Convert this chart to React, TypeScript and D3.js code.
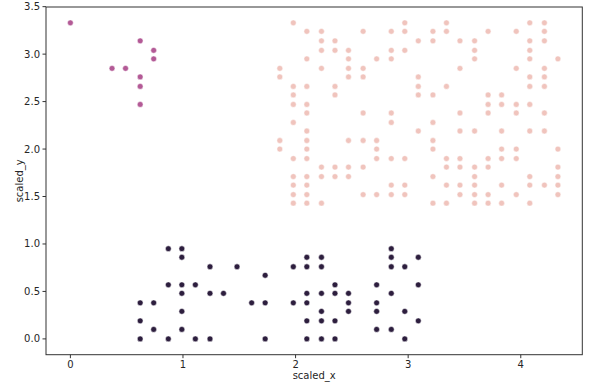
import React from "react";
import * as d3 from "d3";

// rows: [y, xs[]]
const darkRows: [number, number[]][] = [
  [0.95, [0.87, 0.99, 2.85]],
  [0.86, [0.99, 2.10, 2.23, 2.85, 3.09]],
  [0.76, [1.24, 1.48, 1.98, 2.10, 2.23, 2.85, 2.97]],
  [0.67, [1.73]],
  [0.57, [0.87, 0.99, 1.11, 2.35, 2.72, 3.09]],
  [0.48, [0.99, 1.24, 1.36, 2.10, 2.23, 2.35, 2.47, 2.85]],
  [0.38, [0.62, 0.74, 1.61, 1.73, 1.98, 2.10, 2.47, 2.72]],
  [0.29, [0.99, 2.23, 2.47, 2.72, 2.97]],
  [0.19, [0.62, 2.10, 2.23, 2.35, 3.09]],
  [0.10, [0.74, 0.99, 2.72, 2.85]],
  [0.00, [0.62, 0.87, 1.11, 1.24, 1.73, 2.10, 2.23, 2.35, 2.97]],
];

const purpleRows: [number, number[]][] = [
  [3.33, [0.0]],
  [3.14, [0.62]],
  [3.04, [0.74]],
  [2.95, [0.74]],
  [2.85, [0.37, 0.49]],
  [2.76, [0.62]],
  [2.66, [0.62]],
  [2.47, [0.62]],
];

const pinkRows: [number, number[]][] = [
  [3.33, [1.98, 2.97, 3.34, 4.08, 4.21]],
  [3.24, [2.10, 2.23, 2.60, 2.85, 2.97, 3.22, 3.34, 3.71, 3.96, 4.21]],
  [3.14, [2.23, 2.35, 3.09, 3.22, 3.46, 3.59, 4.08, 4.21]],
  [3.04, [2.23, 2.35, 2.47, 2.85, 2.97, 3.59, 4.08]],
  [2.95, [2.10, 2.47, 2.72, 2.85, 3.59, 4.08, 4.33]],
  [2.85, [1.86, 2.23, 2.47, 2.60, 3.46, 3.96, 4.21]],
  [2.76, [1.86, 2.47, 2.60, 3.09, 4.08, 4.21]],
  [2.66, [1.98, 2.10, 2.35, 3.09, 3.34, 4.08, 4.21]],
  [2.57, [1.98, 2.35, 3.09, 3.22, 3.71, 3.83]],
  [2.47, [1.98, 2.10, 3.71, 3.83, 3.96, 4.08]],
  [2.38, [2.10, 2.60, 2.85, 3.46, 3.71, 3.96, 4.21]],
  [2.28, [1.98, 2.85, 3.22]],
  [2.19, [2.10, 3.09, 3.46, 3.59, 3.83, 4.08, 4.21]],
  [2.09, [1.86, 2.10, 2.47, 2.60, 2.72, 3.22]],
  [2.00, [1.86, 2.10, 2.72, 3.22, 3.83, 3.96, 4.33]],
  [1.90, [1.98, 2.10, 2.72, 2.85, 2.97, 3.34, 3.46, 3.71, 3.83, 3.96]],
  [1.81, [2.23, 2.35, 2.47, 2.60, 3.34, 3.46, 3.59, 3.71, 4.33]],
  [1.71, [1.98, 2.10, 2.23, 2.35, 2.47, 3.22, 3.59, 4.08, 4.33]],
  [1.62, [1.98, 2.10, 2.85, 2.97, 3.34, 3.46, 3.59, 3.83, 4.08, 4.21, 4.33]],
  [1.52, [1.98, 2.10, 2.60, 2.72, 2.85, 2.97, 3.46, 3.59, 3.71, 3.96, 4.33]],
  [1.43, [1.98, 2.10, 2.23, 3.22, 3.34, 3.59, 3.71, 3.83, 4.08]],
];

const xTicks = [0, 1, 2, 3, 4];
const yTicks = [0, 0.5, 1, 1.5, 2, 2.5, 3, 3.5];

const W = 596;
const H = 391;
const M = { left: 46, right: 582.3, top: 7, bottom: 354.7 };

const series = [
  { rows: darkRows, color: "#2d1e3e" },
  { rows: purpleRows, color: "#b35a96" },
  { rows: pinkRows, color: "#f0c4bd" },
];

export default function App() {
  const all = [...darkRows, ...purpleRows, ...pinkRows];
  const xs = all.flatMap((r) => r[1]);
  const ys = all.map((r) => r[0]);
  const [x0, x1] = d3.extent(xs) as [number, number];
  const [y0, y1] = d3.extent(ys) as [number, number];
  const px = (x1 - x0) * 0.05;
  const py = (y1 - y0) * 0.05;
  const x = d3.scaleLinear().domain([x0 - px, x1 + px]).range([M.left, M.right]);
  const y = d3.scaleLinear().domain([y0 - py, y1 + py]).range([M.bottom, M.top]);
  const font = "DejaVu Sans, sans-serif";
  const tc = "#262626";
  return (
    <div style={{ position: "fixed", left: 0, top: 0 }}>
      <svg width={W} height={H} style={{ display: "block", background: "#fff" }}>
        {series.map((s, si) =>
          s.rows.flatMap(([yy, xl], ri) =>
            xl.map((xx, k) => (
              <circle
                key={`${si}-${ri}-${k}`}
                cx={x(xx)}
                cy={y(yy)}
                r={2.9}
                fill={s.color}
                stroke="#fff"
                strokeWidth={0.5}
              />
            ))
          )
        )}
        <rect
          x={M.left}
          y={M.top}
          width={M.right - M.left}
          height={M.bottom - M.top}
          fill="none"
          stroke="#333"
          strokeWidth={1}
        />
        {xTicks.map((t) => (
          <g key={`xt${t}`}>
            <line x1={x(t)} x2={x(t)} y1={M.bottom} y2={M.bottom + 3.5} stroke="#333" />
            <text x={x(t)} y={M.bottom + 13.5} textAnchor="middle" fontSize={10} fontFamily={font} fill={tc}>
              {d3.format("d")(t)}
            </text>
          </g>
        ))}
        {yTicks.map((t) => (
          <g key={`yt${t}`}>
            <line x1={M.left - 3.5} x2={M.left} y1={y(t)} y2={y(t)} stroke="#333" />
            <text x={M.left - 6} y={y(t) + 3.5} textAnchor="end" fontSize={10} fontFamily={font} fill={tc}>
              {d3.format(".1f")(t)}
            </text>
          </g>
        ))}
        <text x={(M.left + M.right) / 2} y={379} textAnchor="middle" fontSize={10} fontFamily={font} fill={tc}>
          scaled_x
        </text>
        <text
          transform={`translate(${23},${(M.top + M.bottom) / 2}) rotate(-90)`}
          textAnchor="middle"
          fontSize={10}
          fontFamily={font}
          fill={tc}
        >
          scaled_y
        </text>
      </svg>
    </div>
  );
}
